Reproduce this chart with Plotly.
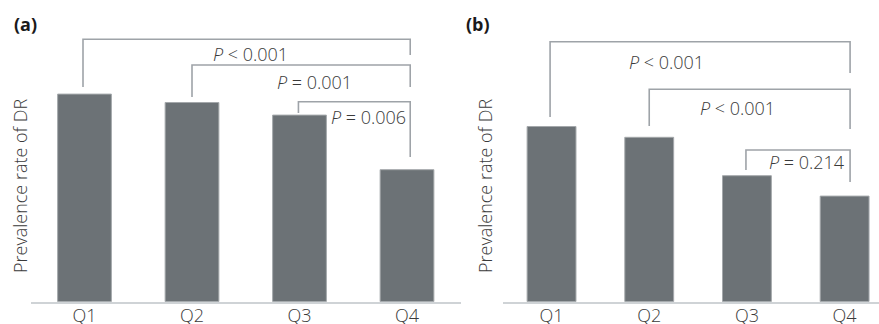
import plotly.graph_objects as go

# ---- data ----
categories = ["Q1", "Q2", "Q3", "Q4"]
prevalence_a = [34.6, 33.2, 31.1, 22.0]
prevalence_b = [29.2, 27.4, 21.0, 17.6]
pvalues_a = ["<i>P</i> &lt; 0.001", "<i>P</i> = 0.001", "<i>P</i> = 0.006"]
pvalues_b = ["<i>P</i> &lt; 0.001", "<i>P</i> &lt; 0.001", "<i>P</i> = 0.214"]
panel_labels = ["(a)", "(b)"]
y_title = "Prevalence rate of DR"

W, H = 879, 324
BASE_PX = 301.7
PX_PER_UNIT = 6.0
YMAX = BASE_PX / PX_PER_UNIT

BAR_COLOR = "#6c7276"
BAR_EDGE = "#a4a8ab"
BRACKET = "#9ea3a8"
TEXT = "#3a3a3a"
AXIS = "#cfd3d6"
FONT = "Open Sans"
FSIZE = 18


def ydat(px):
    return (BASE_PX - px) / PX_PER_UNIT


xs = list(range(len(categories)))

fig = go.Figure()
fig.add_trace(go.Bar(x=xs, y=prevalence_a, width=0.5, xaxis="x", yaxis="y",
                     marker=dict(color=BAR_COLOR, line=dict(color=BAR_EDGE, width=1)),
                     showlegend=False, hoverinfo="skip"))
fig.add_trace(go.Bar(x=xs, y=prevalence_b, width=0.5, xaxis="x2", yaxis="y2",
                     marker=dict(color=BAR_COLOR, line=dict(color=BAR_EDGE, width=1)),
                     showlegend=False, hoverinfo="skip"))

common_x = dict(tickvals=xs, ticktext=categories, showgrid=False, zeroline=False,
                showline=True, linecolor=AXIS, linewidth=1.5, ticks="",
                ticklabelstandoff=-3, automargin=False,
                tickfont=dict(family=FONT, size=FSIZE, color=TEXT, weight=300),
                fixedrange=True)
common_y = dict(range=[0, YMAX], domain=[(H - BASE_PX) / H, 1], showgrid=False,
                zeroline=False, showline=False, showticklabels=False, ticks="",
                automargin=False, fixedrange=True)

fig.update_layout(
    template="none",
    width=W, height=H, margin=dict(l=0, r=0, t=0, b=0, pad=0),
    paper_bgcolor="white", plot_bgcolor="white",
    xaxis=dict(domain=[30.75 / W, 460.75 / W], range=[-0.5, 3.5], anchor="y", **common_x),
    yaxis=dict(anchor="x", **common_y),
    xaxis2=dict(domain=[502.7 / W, 1.0], range=[-0.5, 3.352], anchor="y2", **common_x),
    yaxis2=dict(anchor="x2", **common_y),
)

# brackets: (x_left, x_right, top_px, left_bottom_px, right_bottom_px)
brackets_a = [(-0.014, 3.03, 39.3, 87, 55),
              (1.0, 3.03, 65, 97, 87),
              (1.99, 3.03, 101.7, 113, 157)]
brackets_b = [(-0.015, 3.056, 41.7, 117, 73),
              (1.0, 3.056, 89.3, 126, 129),
              (1.99, 3.056, 150, 170, 182)]
for xr, yr, brs in (("x", "y", brackets_a), ("x2", "y2", brackets_b)):
    for xl, xrgt, tp, lb, rb in brs:
        path = (f"M {xl},{ydat(lb)} L {xl},{ydat(tp)} "
                f"L {xrgt},{ydat(tp)} L {xrgt},{ydat(rb)}")
        fig.add_shape(type="path", path=path, xref=xr, yref=yr,
                      line=dict(color=BRACKET, width=1.6))

# p-value labels: (x center in category units, y px)
label_pos_a = [(1.54, 54), (2.14, 82), (2.64, 117)]
label_pos_b = [(1.18, 62), (1.90, 108), (2.615, 162)]
for xr, yr, texts, poss in (("x", "y", pvalues_a, label_pos_a),
                            ("x2", "y2", pvalues_b, label_pos_b)):
    for t, (px, py) in zip(texts, poss):
        fig.add_annotation(text=t, x=px, y=ydat(py), xref=xr, yref=yr,
                           showarrow=False, xanchor="center", yanchor="middle",
                           font=dict(family=FONT, size=FSIZE, color=TEXT, weight=300))

# y-axis titles
for xc in (20, 485):
    fig.add_annotation(text=y_title, x=xc / W, y=(H - 186) / H, xref="paper", yref="paper",
                       showarrow=False, textangle=-90, xanchor="center", yanchor="middle",
                       font=dict(family=FONT, size=FSIZE, color=TEXT, weight=300))

# panel labels
for lbl, xl in zip(panel_labels, (12, 464)):
    fig.add_annotation(text=f"<b>{lbl}</b>", x=xl / W, y=(H - 24) / H, xref="paper", yref="paper",
                       showarrow=False, xanchor="left", yanchor="middle",
                       font=dict(family=FONT, size=FSIZE, color="#1a1a1a"))

fig.write_html("out.html", config={"displayModeBar": False},
               post_script="document.body.style.margin='0';document.body.style.overflow='hidden';")
